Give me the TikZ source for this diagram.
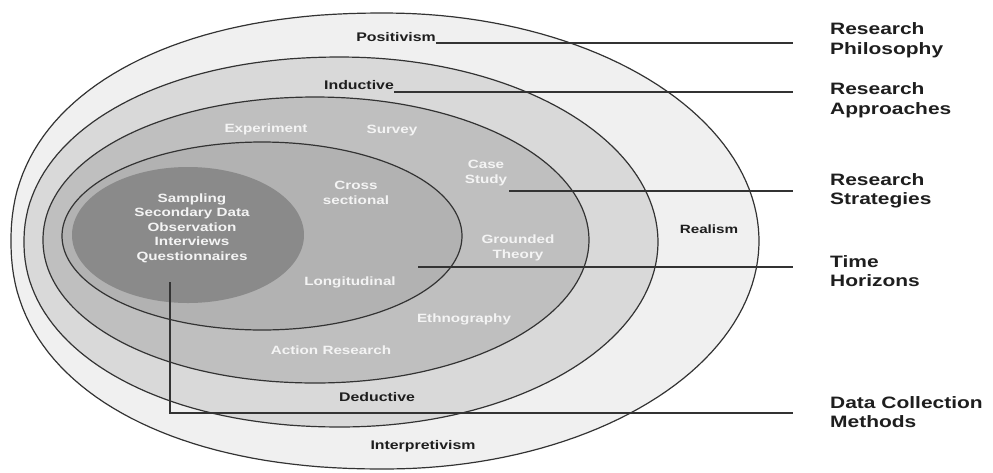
\documentclass[tikz,border=0pt]{standalone}
\usepackage{fontspec}
\setmainfont{Liberation Sans}[FakeStretch=1.27]
\definecolor{ringA}{HTML}{F0F0F0}
\definecolor{ringB}{HTML}{D9D9D9}
\definecolor{ringC}{HTML}{BFBFBF}
\definecolor{ringD}{HTML}{B2B2B2}
\definecolor{coreC}{HTML}{8A8A8A}
\definecolor{linec}{HTML}{333333}
\definecolor{darktext}{HTML}{1E1E1E}
\definecolor{whitetext}{HTML}{F4F4F4}
\newcommand\ovalshape[6]{%
  \path[#6] plot[domain=90.5:269.5,samples=90] ({#1+#3*sxf(\x,#5)},{#2-#4*syf(\x,#5)})
   -- plot[domain=270.5:449.5,samples=90] ({#1+#3*sxf(\x,2)},{#2-#4*syf(\x,2)}) -- cycle;}
\begin{document}
\begin{tikzpicture}[x=1pt,y=-1pt,
  declare function={sxf(\t,\p)=sign(cos(\t))*pow(abs(cos(\t)),2/\p);
                    syf(\t,\p)=sign(sin(\t))*pow(abs(sin(\t)),2/\p);},
  ringline/.style={draw=linec,line width=1.2pt},
  conn/.style={draw=linec,line width=1.3pt},
  darklbl/.style={font=\bfseries\fontsize{12.5}{15}\selectfont,text=darktext,inner sep=0pt},
  whitelbl/.style={font=\bfseries\fontsize{12}{14.5}\selectfont,text=whitetext,align=center,inner sep=0pt},
  sidelbl/.style={font=\bfseries\fontsize{16.5}{19.5}\selectfont,text=darktext,align=left,anchor=west,inner sep=0pt}]
\useasboundingbox (0,0) rectangle (993,472);
\fill[white] (0,0) rectangle (993,472);
% rings
\ovalshape{385}{241}{374}{228}{2.2}{fill=ringA,ringline}
\ovalshape{341}{242}{317}{185}{2.1}{fill=ringB,ringline}
\ovalshape{316}{240}{273}{143}{2.05}{fill=ringC,ringline}
\ovalshape{262}{236}{200}{94}{2}{fill=ringD,ringline}
\ovalshape{188}{235}{116}{68}{2}{fill=coreC}
% labels inside
\node[darklbl] (pos) at (396,37) {Positivism};
\node[darklbl] (ind) at (359,85) {Inductive};
\node[darklbl] (ded) at (377,397) {Deductive};
\node[darklbl] (int) at (423,446) {Interpretivism};
\node[darklbl,font=\bfseries\fontsize{12}{14}\selectfont] (rea) at (709,229) {Realism};
\node[whitelbl] (exp) at (266,129) {Experiment};
\node[whitelbl] (sur) at (392,131) {Survey};
\node[whitelbl] (cs) at (486,173) {Case\\Study};
\node[whitelbl] (cro) at (356,193) {Cross\\sectional};
\node[whitelbl] (gt) at (518,248) {Grounded\\Theory};
\node[whitelbl] (lon) at (350,282) {Longitudinal};
\node[whitelbl] (eth) at (464,319) {Ethnography};
\node[whitelbl] (act) at (331,350) {Action Research};
\node[whitelbl] (dcm) at (192,228) {Sampling\\Secondary Data\\Observation\\Interviews\\Questionnaires};
% side labels
\node[sidelbl] (rp) at (830,40) {Research\\Philosophy};
\node[sidelbl] (ra) at (830,100) {Research\\Approaches};
\node[sidelbl] (rs) at (830,191) {Research\\Strategies};
\node[sidelbl] (th) at (830,271) {Time\\Horizons};
\node[sidelbl] (dc) at (830,412) {Data Collection\\Methods};
% connector ends
\coordinate (e1) at (793,43);
\coordinate (e2) at (793,92);
\coordinate (e3) at (793,191);
\coordinate (e4) at (793,267);
\coordinate (e5) at (793,413);
\coordinate (t0) at (418,267);
\coordinate (d0) at (170,282);
\draw[conn] (pos.east |- e1) -- (e1);
\draw[conn] (ind.east |- e2) -- (e2);
\draw[conn] ([xshift=2pt]cs.east |- e3) -- (e3);
\draw[conn] (t0) -- (e4);
\draw[conn] (d0) |- (e5);
\end{tikzpicture}
\end{document}
